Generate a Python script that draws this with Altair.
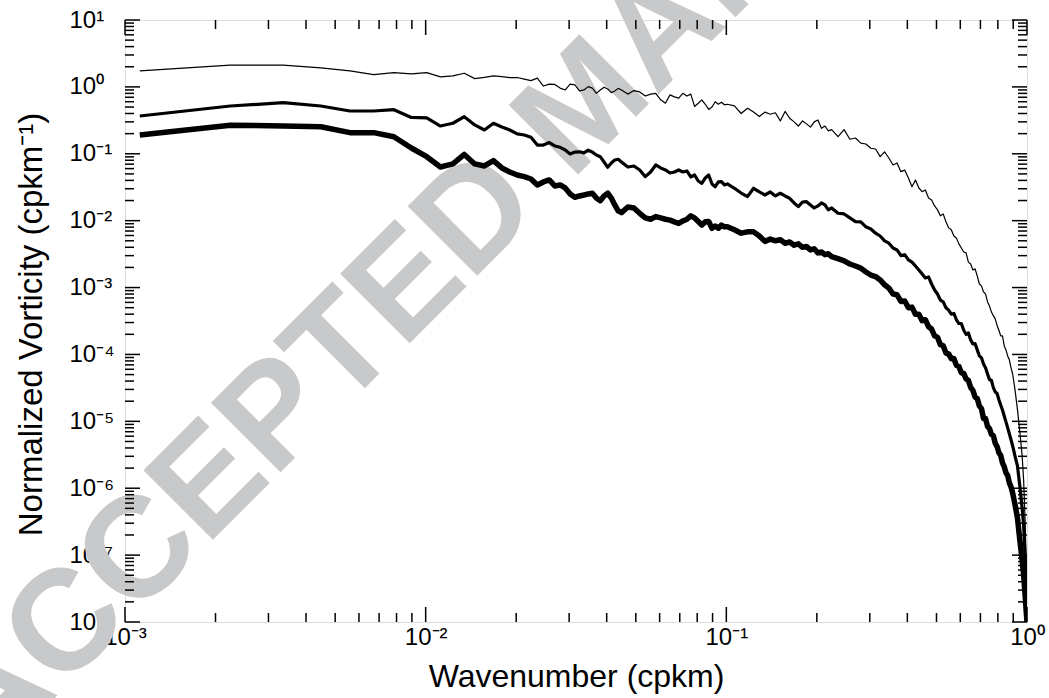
import altair as alt
import pandas as pd

# ---------------- data ----------------
wavenumber = [
    # n = 1..40
    0.00112, 0.00224, 0.00336, 0.00448, 0.0056, 0.00672, 0.00784, 0.00896, 0.01008, 0.0112,
    0.01232, 0.01344, 0.01456, 0.01568, 0.0168, 0.01792, 0.01904, 0.02016, 0.02128, 0.0224,
    0.02352, 0.02464, 0.02576, 0.02688, 0.028, 0.02912, 0.03024, 0.03136, 0.03248, 0.0336,
    0.03472, 0.03584, 0.03696, 0.03808, 0.0392, 0.04032, 0.04144, 0.04256, 0.04368, 0.0448,
    # n = 42..90
    0.04704, 0.04928, 0.05152, 0.05376, 0.056, 0.05824, 0.06048, 0.06272, 0.06496, 0.0672,
    0.06944, 0.07168, 0.07392, 0.07616, 0.0784, 0.08064, 0.08288, 0.08512, 0.08736, 0.0896,
    0.09184, 0.09408, 0.09632, 0.09856, 0.1008,
    # n = 95..200
    0.1064, 0.112, 0.1176, 0.1232, 0.1288, 0.1344, 0.14, 0.1456, 0.1512, 0.1568,
    0.1624, 0.168, 0.1736, 0.1792, 0.1848, 0.1904, 0.196, 0.2016, 0.2072, 0.2128,
    0.2184, 0.224,
    # n = 210..800
    0.2352, 0.2464, 0.2576, 0.2688, 0.28, 0.2912, 0.3024, 0.3136, 0.3248, 0.336,
    0.3472, 0.3584, 0.3696, 0.3808, 0.392, 0.4032, 0.4144, 0.4256, 0.4368, 0.448,
    0.4592, 0.4704, 0.4816, 0.4928, 0.504, 0.5152, 0.5264, 0.5376, 0.5488, 0.56,
    0.5712, 0.5824, 0.5936, 0.6048, 0.616, 0.6272, 0.6384, 0.6496, 0.6608, 0.672,
    0.6832, 0.6944, 0.7056, 0.7168, 0.728, 0.7392, 0.7504, 0.7616, 0.7728, 0.784,
    0.7952, 0.8064, 0.8176, 0.8288, 0.84, 0.8512, 0.8624, 0.8736, 0.8848, 0.896,
    # tail
    0.9128, 0.9296, 0.9464, 0.9632, 0.9744, 0.9856, 0.99344, 1.0,
]

thin = [
    1.73, 2.12, 2.12, 1.92, 1.73, 1.53, 1.63, 1.56, 1.63, 1.41,
    1.46, 1.60, 1.33, 1.39, 1.46, 1.42, 1.38, 1.38, 1.31, 1.24,
    1.35, 1.03, 1.10, 1.09, 0.96, 0.90, 1.10, 1.07, 0.87, 0.90,
    1.01, 0.96, 0.80, 0.90, 0.99, 0.93, 0.82, 0.87, 0.95, 0.90,
    0.78, 0.88, 0.84, 0.73, 0.78, 0.80, 0.64, 0.57, 0.76, 0.71,
    0.68, 0.80, 0.73, 0.78, 0.51, 0.57, 0.64, 0.55, 0.46, 0.50,
    0.60, 0.55, 0.59, 0.54, 0.55,
    0.52, 0.40, 0.48, 0.42, 0.36, 0.42, 0.39, 0.41, 0.31, 0.43,
    0.34, 0.30, 0.26, 0.31, 0.28, 0.25, 0.30, 0.32, 0.24, 0.26,
    0.22, 0.23,
    0.18, 0.23, 0.165, 0.172, 0.144, 0.14, 0.121, 0.118, 0.0905, 0.107,
    0.0865, 0.068, 0.073, 0.054, 0.057, 0.0435, 0.0322, 0.0406, 0.0308, 0.0271,
    0.0288, 0.0218, 0.0204, 0.0166, 0.0145, 0.0118, 0.0126, 0.0096, 0.0078, 0.0073,
    0.0059, 0.0055, 0.0045, 0.0039, 0.0034, 0.0033, 0.0024, 0.00225, 0.00183, 0.0019,
    0.00149, 0.00113, 0.00106, 0.00086, 0.0008, 0.00061, 0.00053, 0.00043, 0.00038, 0.00034,
    0.00027, 0.00023, 0.00019, 0.00019, 0.000134, 0.000117, 9.5e-5, 8.3e-5, 6.3e-5, 5.1e-5,
    2.9e-5, 1.5e-5, 7.0e-6, 3.1e-6, 1.33e-6, 3.4e-7, 7.1e-8, 1e-8,
]

medium = [
    0.367, 0.518, 0.58, 0.518, 0.436, 0.436, 0.456, 0.349, 0.343, 0.26,
    0.286, 0.359, 0.27, 0.227, 0.286, 0.252, 0.227, 0.198, 0.191, 0.177,
    0.135, 0.135, 0.147, 0.131, 0.125, 0.114, 0.0993, 0.106, 0.107, 0.103,
    0.113, 0.106, 0.096, 0.0905, 0.0754, 0.0628, 0.0729, 0.0807, 0.0828, 0.0754,
    0.0635, 0.0657, 0.0573, 0.0455, 0.0535, 0.068, 0.0614, 0.0573, 0.0516, 0.0535,
    0.0573, 0.0535, 0.0553, 0.045, 0.0482, 0.0392, 0.0362, 0.0435, 0.0482, 0.0354,
    0.0322, 0.0379, 0.0383, 0.0342, 0.0354,
    0.0305, 0.0259, 0.0229, 0.0305, 0.0269, 0.0242, 0.0269, 0.0234, 0.0257, 0.0234,
    0.0216, 0.0184, 0.0162, 0.019, 0.0192, 0.0172, 0.0155, 0.0166, 0.0184, 0.0172,
    0.0145, 0.0155,
    0.0129, 0.0126, 0.011, 0.0097, 0.0096, 0.0081, 0.0075, 0.0065, 0.0059, 0.0050,
    0.0046, 0.0039, 0.00365, 0.0030, 0.0031, 0.00259, 0.0024, 0.0021, 0.00183, 0.0016,
    0.00139, 0.00144, 0.00113, 0.00092, 0.0008, 0.00065, 0.00061, 0.0005, 0.00046, 0.0004,
    0.00041, 0.00033, 0.00029, 0.00029, 0.00023, 0.0002, 0.00021, 0.000165, 0.000144, 0.000145,
    0.000117, 9.5e-5, 8.9e-5, 7.2e-5, 6.3e-5, 5.1e-5, 4.2e-5, 4.1e-5, 3.2e-5, 2.75e-5,
    2.6e-5, 2.1e-5, 1.76e-5, 1.48e-5, 1.2e-5, 9.8e-6, 8.0e-6, 6.5e-6, 5.3e-6, 4.3e-6,
    3.0e-6, 2.15e-6, 1.08e-6, 5.1e-7, 2.8e-7, 1.0e-7, 3.6e-8, 1e-8,
]

thick = [
    0.191, 0.267, 0.26, 0.254, 0.207, 0.207, 0.18, 0.122, 0.0905, 0.0635,
    0.0705, 0.0977, 0.0705, 0.0657, 0.0789, 0.0614, 0.0535, 0.0482, 0.0455, 0.042,
    0.0342, 0.0379, 0.0406, 0.033, 0.0342, 0.0308, 0.0251, 0.0224, 0.0234, 0.0242,
    0.0251, 0.0257, 0.0218, 0.0199, 0.0234, 0.0257, 0.0218, 0.0172, 0.014, 0.0132,
    0.016, 0.0155, 0.0129, 0.011, 0.0105, 0.0115, 0.011, 0.0105, 0.0102, 0.0096,
    0.0091, 0.0099, 0.0105, 0.0118, 0.011, 0.0097, 0.0086, 0.0096, 0.0097, 0.0077,
    0.0083, 0.0077, 0.0086, 0.0081, 0.0081,
    0.0073, 0.0065, 0.0068, 0.0068, 0.0059, 0.0049, 0.0053, 0.005, 0.0052, 0.0046,
    0.0048, 0.0043, 0.0045, 0.0040, 0.0041, 0.00365, 0.0038, 0.0033, 0.0034, 0.0031,
    0.0032, 0.0029,
    0.0027, 0.0025, 0.00225, 0.0021, 0.00195, 0.00171, 0.00154, 0.00146, 0.0013, 0.0011,
    0.00098, 0.0008, 0.00078, 0.00062, 0.00063, 0.0005, 0.00051, 0.0004, 0.0004, 0.00032,
    0.00033, 0.00026, 0.00024, 0.00019, 0.00018, 0.00014, 0.000135, 0.000105, 0.000102, 8.6e-5,
    8.7e-5, 6.9e-5, 6.6e-5, 5.3e-5, 5.2e-5, 4.3e-5, 4.1e-5, 3.2e-5, 2.9e-5, 2.3e-5,
    2.2e-5, 1.7e-5, 1.55e-5, 1.1e-5, 1.1e-5, 8.4e-6, 7.8e-6, 6.4e-6, 6.1e-6, 4.7e-6,
    4.2e-6, 3.4e-6, 3.1e-6, 2.4e-6, 2.1e-6, 1.7e-6, 1.55e-6, 1.2e-6, 1.05e-6, 8.5e-7,
    5.6e-7, 3.6e-7, 1.69e-7, 8.5e-8, 5.1e-8, 2.5e-8, 1.5e-8, 1e-8,
]

assert len(wavenumber) == len(thin) == len(medium) == len(thick), (
    len(wavenumber), len(thin), len(medium), len(thick))

x_major = [0.001, 0.01, 0.1, 1.0]
y_exponents = list(range(-8, 2))
x_exponents = [-3, -2, -1, 0]
multipliers = [2, 3, 4, 5, 6, 7, 8, 9]
watermark_text = ["ACCEPTED MANUSCRIPT"]

# ---------------- layout ----------------
W, H = 902, 602
FONT = "Liberation Sans"
MAJOR, MINOR = 15, 9

y_major = [10.0 ** e for e in y_exponents]
x_minor = [m * 10.0 ** e for e in x_exponents[:-1] for m in multipliers]
y_minor = [m * 10.0 ** e for e in y_exponents[:-1] for m in multipliers]

SUP = str.maketrans("-0123456789", "\u207b\u2070\u00b9\u00b2\u00b3\u2074\u2075\u2076\u2077\u2078\u2079")


def pow_label_expr(exps):
    e = "round(log(datum.value)/LN10)"
    expr = "''"
    for p in exps:
        expr = f"({e} == {p} ? '10{str(p).translate(SUP)}' : {expr})"
    return expr


xscale = alt.Scale(type="log", domain=[0.001, 1.0], nice=False)
yscale = alt.Scale(type="log", domain=[1e-8, 10.0], nice=False)

x_axis = alt.Axis(
    values=x_major, labelExpr=pow_label_expr(x_exponents),
    title="Wavenumber (cpkm)", grid=False, ticks=False, tickSize=0, domain=False,
    labelFont=FONT, labelFontSize=24, labelColor="black", labelPadding=3,
    labelBaseline="top", labelFlush=False, labelOverlap=False, labelBound=False,
    titleFont=FONT, titleFontSize=32, titleFontWeight="normal", titleColor="black",
    titleX=451, titleY=64, titleAlign="center", titleBaseline="alphabetic",
)
y_axis = alt.Axis(
    values=y_major, labelExpr=pow_label_expr(y_exponents),
    title="Normalized Vorticity (cpkm\u207b\u00b9)", grid=False, ticks=False, tickSize=0,
    domain=False, labelFont=FONT, labelFontSize=24, labelColor="black",
    labelAlign="left", labelPadding=56, labelBaseline="middle",
    labelFlush=False, labelOverlap=False, labelBound=False,
    titleFont=FONT, titleFontSize=33, titleFontWeight="normal", titleColor="black",
    titleX=-84, titleY=304, titleAngle=270, titleAlign="center", titleBaseline="alphabetic",
)


def series_layer(values, width):
    df = pd.DataFrame({"wavenumber": wavenumber, "vorticity": values})
    return alt.Chart(df).mark_line(
        color="black", strokeWidth=width, clip=True, strokeJoin="round"
    ).encode(
        x=alt.X("wavenumber:Q", scale=xscale, axis=x_axis),
        y=alt.Y("vorticity:Q", scale=yscale, axis=y_axis),
    )


def xticks(values, length, top):
    base = alt.Chart(pd.DataFrame({"wavenumber": values})).mark_rule(
        color="black", strokeWidth=1.5)
    if top:
        ys = dict(y=alt.value(0), y2=alt.value(length))
    else:
        ys = dict(y=alt.value(H), y2=alt.value(H - length))
    return base.encode(x=alt.X("wavenumber:Q", scale=xscale, axis=x_axis), **ys)


def yticks(values, length, right):
    base = alt.Chart(pd.DataFrame({"vorticity": values})).mark_rule(
        color="black", strokeWidth=1.5)
    if right:
        xs = dict(x=alt.value(W), x2=alt.value(W - length))
    else:
        xs = dict(x=alt.value(0), x2=alt.value(length))
    return base.encode(y=alt.Y("vorticity:Q", scale=yscale, axis=y_axis), **xs)


watermark = alt.Chart(pd.DataFrame({"text": watermark_text})).mark_text(
    angle=315, fontSize=143, font=FONT, fontWeight="bold", color="#c8c9cb",
    align="center", baseline="middle",
).encode(text="text:N", x=alt.value(461), y=alt.value(86))

layers = [
    watermark,
    series_layer(thick, 5.5),
    series_layer(medium, 3.2),
    series_layer(thin, 1.2),
    xticks(x_major, MAJOR, False), xticks(x_minor, MINOR, False),
    xticks(x_major, MAJOR, True), xticks(x_minor, MINOR, True),
    yticks(y_major, MAJOR, False), yticks(y_minor, MINOR, False),
    yticks(y_major, MAJOR, True), yticks(y_minor, MINOR, True),
]

chart = alt.layer(*layers).properties(
    width=W, height=H,
    padding={"left": 125, "right": 22, "top": 20, "bottom": 76},
    autosize=alt.AutoSizeParams(type="none"),
).configure_view(
    stroke="black", strokeWidth=2
).configure(font=FONT, background="white")

chart.save("out.html", embed_options={"renderer": "svg", "actions": False})
